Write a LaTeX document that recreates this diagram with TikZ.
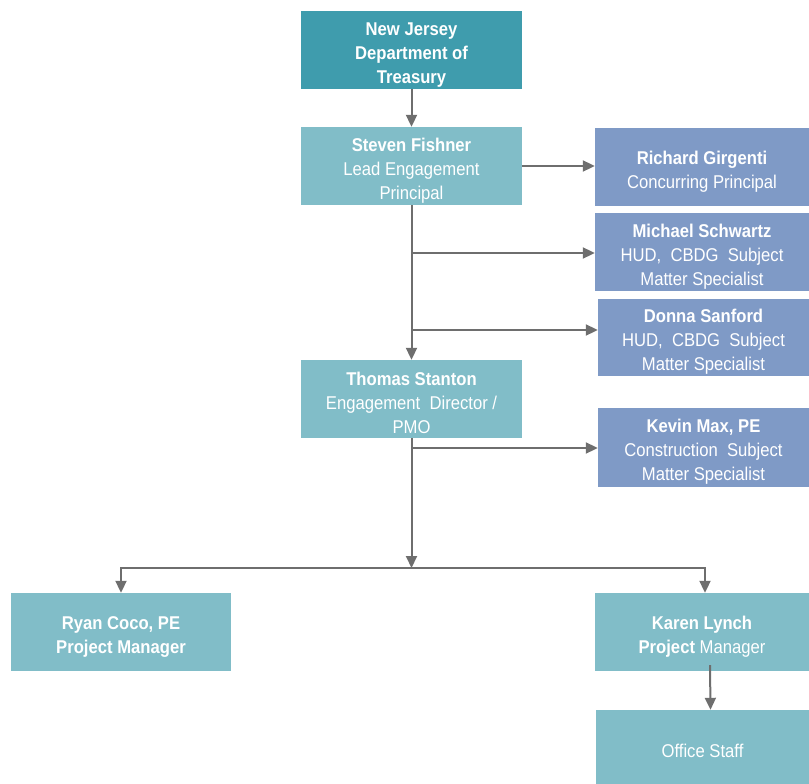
\documentclass[tikz,border=0pt]{standalone}
\usepackage{fontspec}
\setmainfont{Liberation Sans}[FakeStretch=0.9]
\usetikzlibrary{arrows.meta}
\definecolor{treasury}{HTML}{3F9CAD}
\definecolor{staff}{HTML}{81BDC8}
\definecolor{advisor}{HTML}{7F9AC6}
\definecolor{link}{HTML}{6E6E6E}
\newcommand{\headroom}{\rule{0pt}{22pt}}
\begin{document}
\begin{tikzpicture}[x=1pt, y=-1pt,
        card/.style={minimum width=221pt, minimum height=78pt, inner sep=0pt,
            align=center, text=white, font=\fontsize{18.5}{24}\selectfont},
        agency/.style={card, fill=treasury},
        team/.style={card, fill=staff},
        expert/.style={card, fill=advisor},
        arr/.style={draw=link, line width=2pt, -{Triangle[length=12pt,width=11pt]}}]
        \useasboundingbox (0,0) rectangle (809,784);

        \node[agency] (treas) at (411.5,50) {\headroom\textbf{New Jersey}\\\textbf{Department of}\\\textbf{Treasury}};
        \node[team] (fish) at (411.5,166) {\headroom\textbf{Steven Fishner}\\Lead Engagement\\Principal};
        \node[expert, minimum width=214pt] (gir) at (702,167) {\headroom\textbf{Richard Girgenti}\\Concurring Principal};
        \node[expert, minimum width=214pt] (mic) at (702,252) {\headroom\textbf{Michael Schwartz}\\HUD,\ \ CBDG\ \ Subject\\Matter Specialist};
        \node[expert, minimum width=211pt, minimum height=77pt] (don) at (703.5,337.5) {\headroom\textbf{Donna Sanford}\\HUD,\ \ CBDG\ \ Subject\\Matter Specialist};
        \node[team] (stan) at (411.5,399) {\headroom\textbf{Thomas Stanton}\\Engagement\ \ Director /\\PMO};
        \node[expert, minimum width=211pt, minimum height=79pt] (kev) at (703.5,447.5) {\headroom\textbf{Kevin Max, PE}\\Construction\ \ Subject\\Matter Specialist};
        \node[team, minimum width=220pt] (ryan) at (121,632) {\headroom\textbf{Ryan Coco, PE}\\\textbf{Project Manager}};
        \node[team, minimum width=214pt] (kar) at (702,632) {\headroom\textbf{Karen Lynch}\\\textbf{Project} Manager};
        \node[team, minimum width=213pt, minimum height=74pt] (off) at (702.5,747) {\headroom Office Staff};

        \coordinate (tap1) at (411.5,253);
        \coordinate (tap2) at (411.5,330);
        \coordinate (tap3) at (411.5,448);
        \coordinate (split) at (411.5,568);

        \draw[arr] (treas) -- (fish);
        \draw[arr] (fish.east) -- (fish.east -| gir.west);
        \draw[arr] (fish) -- (stan);
        \draw[arr] (tap1) -- (tap1 -| mic.west);
        \draw[arr] (tap2) -- (tap2 -| don.west);
        \draw[arr] (tap3) -- (tap3 -| kev.west);
        \draw[arr] (stan) -- (split);
        \draw[arr] (split) -| (ryan);
        \draw[arr] (split) -| ([xshift=3pt]kar.north);
        \draw[arr] ([xshift=8pt,yshift=6pt]kar.south) -- ([xshift=8pt]off.north);

    \end{tikzpicture}
\end{document}
